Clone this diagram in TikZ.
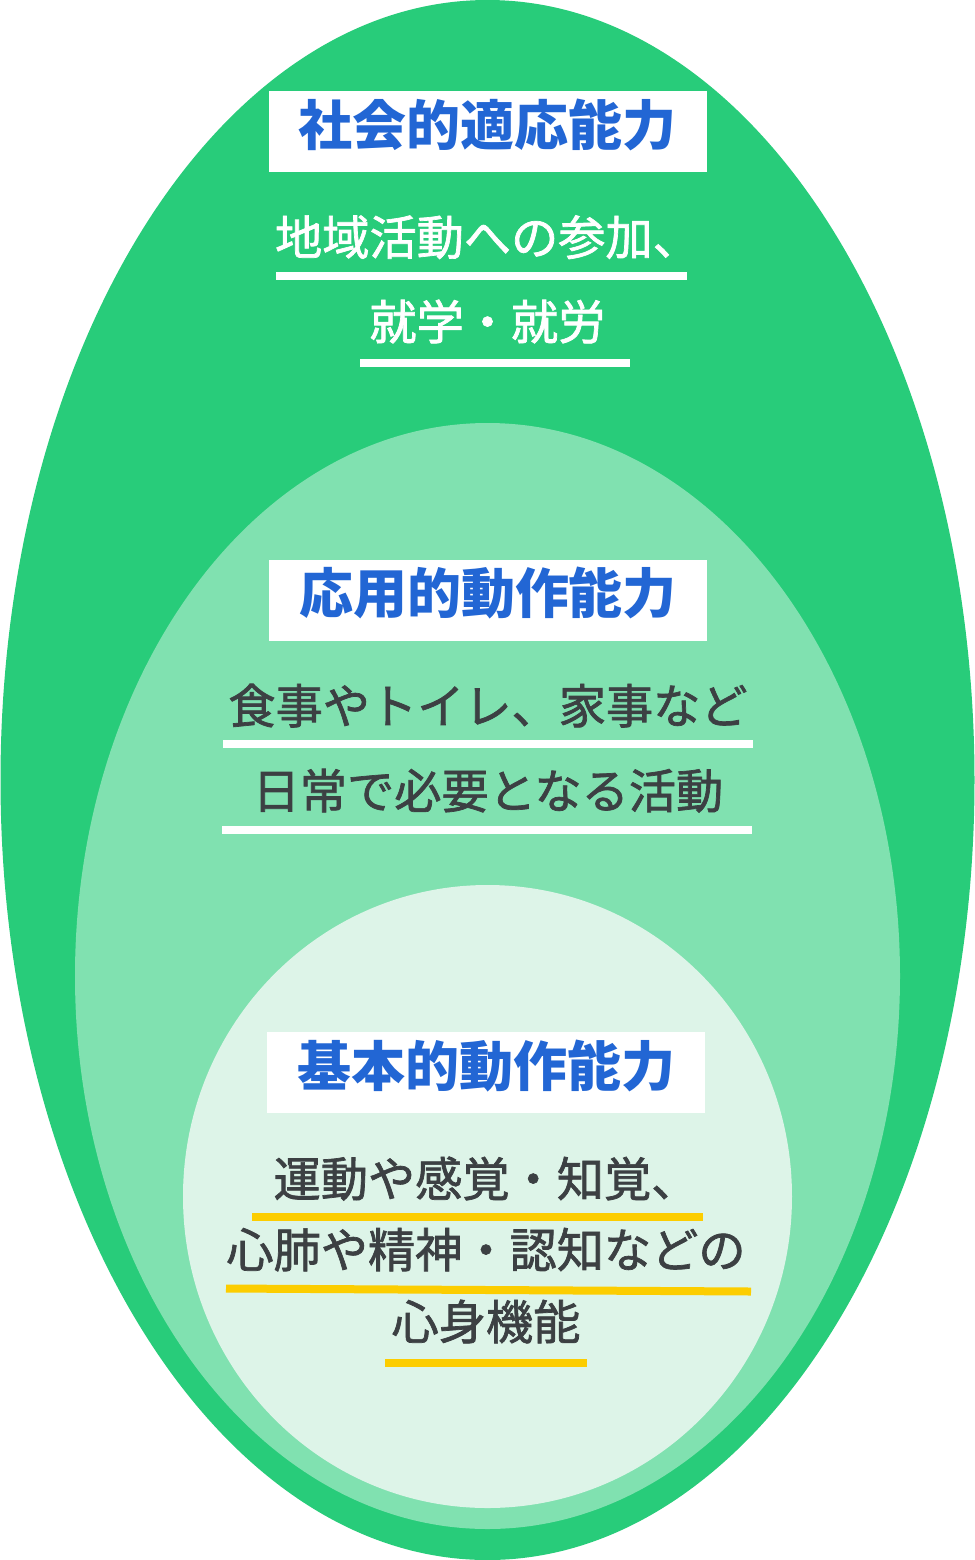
\documentclass[tikz,border=0pt]{standalone}
\usepackage{fontspec}
\newfontfamily\jpfont{Noto Sans CJK JP}
\newfontfamily\jpbody{Noto Sans CJK JP}[FakeBold=1.5]
\usetikzlibrary{positioning}
\definecolor{outergreen}{RGB}{40,204,122}
\definecolor{midgreen}{RGB}{128,225,176}
\definecolor{innergreen}{RGB}{221,244,232}
\definecolor{titleblue}{RGB}{34,102,212}
\definecolor{textgray}{RGB}{60,64,67}
\definecolor{lineyellow}{RGB}{252,205,0}

\begin{document}
\begin{tikzpicture}[x=0.5pt, y=-0.5pt, on grid, node distance=55pt,
      titlebox/.style={fill=white, text=titleblue, inner sep=0pt,
        minimum width=219pt, minimum height=40.5pt,
        font=\jpfont\bfseries\fontsize{27}{30}\selectfont,
        text height=1.35em, text depth=0pt},
      body/.style={inner sep=0pt, font=\jpbody\fontsize{23.6}{28}\selectfont,
        text height=1.35em, text depth=0pt},
      uline/.style={line width=4pt}
  ]
    \useasboundingbox (0,0) rectangle (975,1560);
    \fill[outergreen] (487.5,780) ellipse [x radius=243.5pt, y radius=390pt];
    \fill[midgreen] (487.5,976) ellipse [x radius=206.25pt, y radius=276.5pt];
    \fill[innergreen] (487.5,1196.5) ellipse [x radius=152.25pt, y radius=155.75pt];

    \node[titlebox] (social) at (487.5,131.5) {社会的適応能力};
    \node[body, text=white] (social1) [below=of social] {地域活動への参加、};
    \node[body, text=white] (social2) [below=42.25pt of social1] {就学・就労};

    \node[titlebox] (applied) at (488,600) {応用的動作能力};
    \node[body, text=textgray] (applied1) [below=of applied] {食事やトイレ、家事など};
    \node[body, text=textgray] (applied2) [below=42.5pt of applied1] {日常で必要となる活動};

    \node[titlebox] (basic) at (486,1072.5) {基本的動作能力};
    \node[body, text=textgray] (basic1) [below=55.25pt of basic] {運動や感覚・知覚、};
    \node[body, text=textgray] (basic2) [below=35.5pt of basic1] {心肺や精神・認知などの};
    \node[body, text=textgray] (basic3) [below=36pt of basic2] {心身機能};

    \draw[uline, white] (276,276) -- (687,276);
    \draw[uline, white] (360,362.5) -- (630,362.5);
    \draw[uline, white] (223,744) -- (753,744);
    \draw[uline, white] (222,830) -- (752,830);
    \draw[uline, lineyellow] (252,1216.5) -- (703,1216.5);
    \draw[uline, lineyellow] (226,1288.5) -- (751,1291.5);
    \draw[uline, lineyellow] (385,1363) -- (587,1363);
  \end{tikzpicture}
\end{document}
